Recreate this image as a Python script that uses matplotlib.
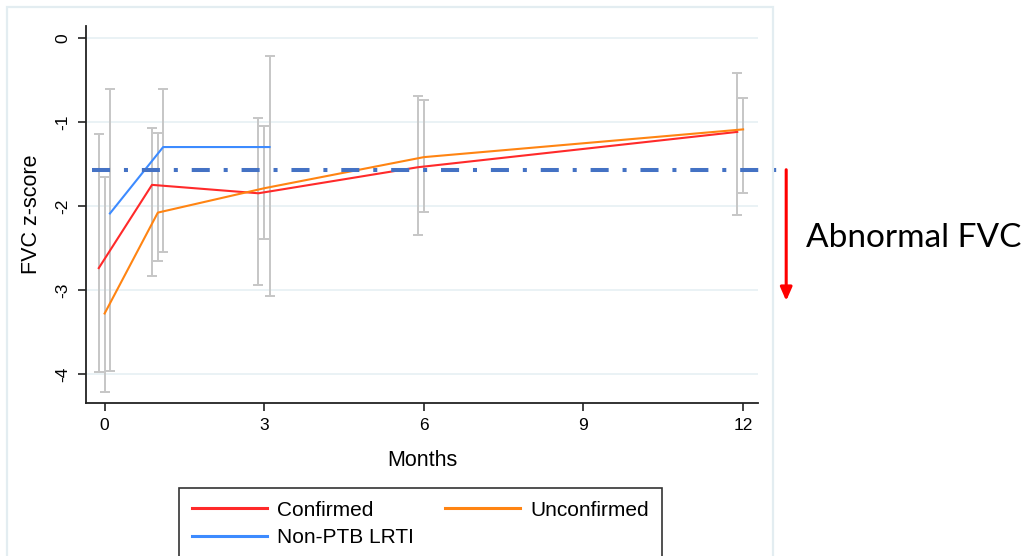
import matplotlib
matplotlib.use("Agg")
import matplotlib.pyplot as plt
from matplotlib.patches import Rectangle

# FVC z-score by group over follow-up (means and 95% CI)
months_conf = [0, 1, 3, 6, 12]
conf_mean = [-2.74, -1.75, -1.85, -1.54, -1.12]
conf_lo = [-3.98, -2.83, -2.94, -2.35, -2.11]
conf_hi = [-1.15, -1.07, -0.96, -0.69, -0.42]

months_unconf = [0, 1, 3, 6, 12]
unconf_mean = [-3.28, -2.08, -1.79, -1.42, -1.09]
unconf_lo = [-4.22, -2.66, -2.39, -2.07, -1.85]
unconf_hi = [-1.66, -1.13, -1.05, -0.74, -0.72]

months_lrti = [0, 1, 3]
lrti_mean = [-2.09, -1.30, -1.30]
lrti_lo = [-3.96, -2.55, -3.07]
lrti_hi = [-0.61, -0.61, -0.22]

abnormal_cut = -1.57
x_ticks = [0, 3, 6, 9, 12]
y_ticks = [0, -1, -2, -3, -4]

plt.rcParams['font.family'] = ['Liberation Sans', 'DejaVu Sans']

fig = plt.figure(figsize=(10.3, 5.56), dpi=100)
ax = fig.add_axes([86/1030, 1-403/556, (758-86)/1030, (403-26)/556])

grey = '#c6c6c6'
series = [
    (months_conf, conf_mean, conf_lo, conf_hi, '#ff2a2a', -0.11, 'Confirmed'),
    (months_unconf, unconf_mean, unconf_lo, unconf_hi, '#ff8412', 0.0, 'Unconfirmed'),
    (months_lrti, lrti_mean, lrti_lo, lrti_hi, '#3d8bff', 0.1, 'Non-PTB LRTI'),
]
handles = []
for xs, m, lo, hi, col, off, lab in series:
    xx = [x + off for x in xs]
    err = [[a - b for a, b in zip(m, lo)], [b - a for a, b in zip(m, hi)]]
    ax.errorbar(xx, m, yerr=err, fmt='none', ecolor=grey, elinewidth=1.4,
                capsize=3.3, capthick=1.4, zorder=2)
    h, = ax.plot(xx, m, color=col, lw=1.5, zorder=3, label=lab)
    handles.append(h)

# reference line for abnormal FVC, runs past the plot frame
lw = 2.9
ax.plot([-0.235, 12.64], [abnormal_cut, abnormal_cut], color='#4472c4', lw=lw,
        dashes=(13/lw, 10/lw, 2.9/lw, 10/lw), dash_capstyle='butt',
        clip_on=False, zorder=4)
ax.annotate('', xy=(12.81, -3.13), xytext=(12.81, abnormal_cut),
            xycoords='data', annotation_clip=False,
            arrowprops=dict(arrowstyle='-|>,head_width=0.35,head_length=0.8',
                            color='#ff0000', lw=2.2, shrinkA=0, shrinkB=0))
fig.text(806/1030, 1-238/556, 'Abnormal FVC', family='Lato', fontsize=24,
         va='center', ha='left')

ax.set_xlim(-0.35, 12.28)
ax.set_ylim(-4.345, 0.14)
ax.set_xticks(x_ticks)
ax.set_yticks(y_ticks)
ax.set_yticklabels([str(v) for v in y_ticks], rotation=90, va='center')
ax.tick_params(axis='both', direction='out', length=6, width=1.2, labelsize=12.5,
               color='#222222', pad=5)
ax.grid(axis='y', color='#e6f0f3', lw=1.2)
ax.set_axisbelow(True)
for s in ['top', 'right']:
    ax.spines[s].set_visible(False)
for s in ['left', 'bottom']:
    ax.spines[s].set_linewidth(1.3)
    ax.spines[s].set_color('#222222')
ax.set_ylabel('FVC z-score', fontsize=15.5, labelpad=10)
ax.set_xlabel('Months', fontsize=15.5, labelpad=12)

# column-major fill: Confirmed / Non-PTB LRTI in col 1, Unconfirmed in col 2
leg = fig.legend(handles=[handles[0], handles[2], handles[1]],
                 loc='upper left', ncol=2, mode='expand',
                 bbox_to_anchor=(179/1030, 0, 483/1030, 1-488/556),
                 fontsize=15, frameon=True, fancybox=False, edgecolor='black',
                 handlelength=3.6, handletextpad=0.5, borderaxespad=0,
                 labelspacing=0.42, borderpad=0.6)
leg.get_frame().set_linewidth(1.2)
for ln in leg.get_lines():
    ln.set_linewidth(2.2)

fig.patches.append(Rectangle((7/1030, -0.1), (773-7)/1030, 1.1-7/556,
                             transform=fig.transFigure, fill=False,
                             edgecolor='#e3edf1', lw=1.6))

fig.savefig('out.png', dpi=100)
